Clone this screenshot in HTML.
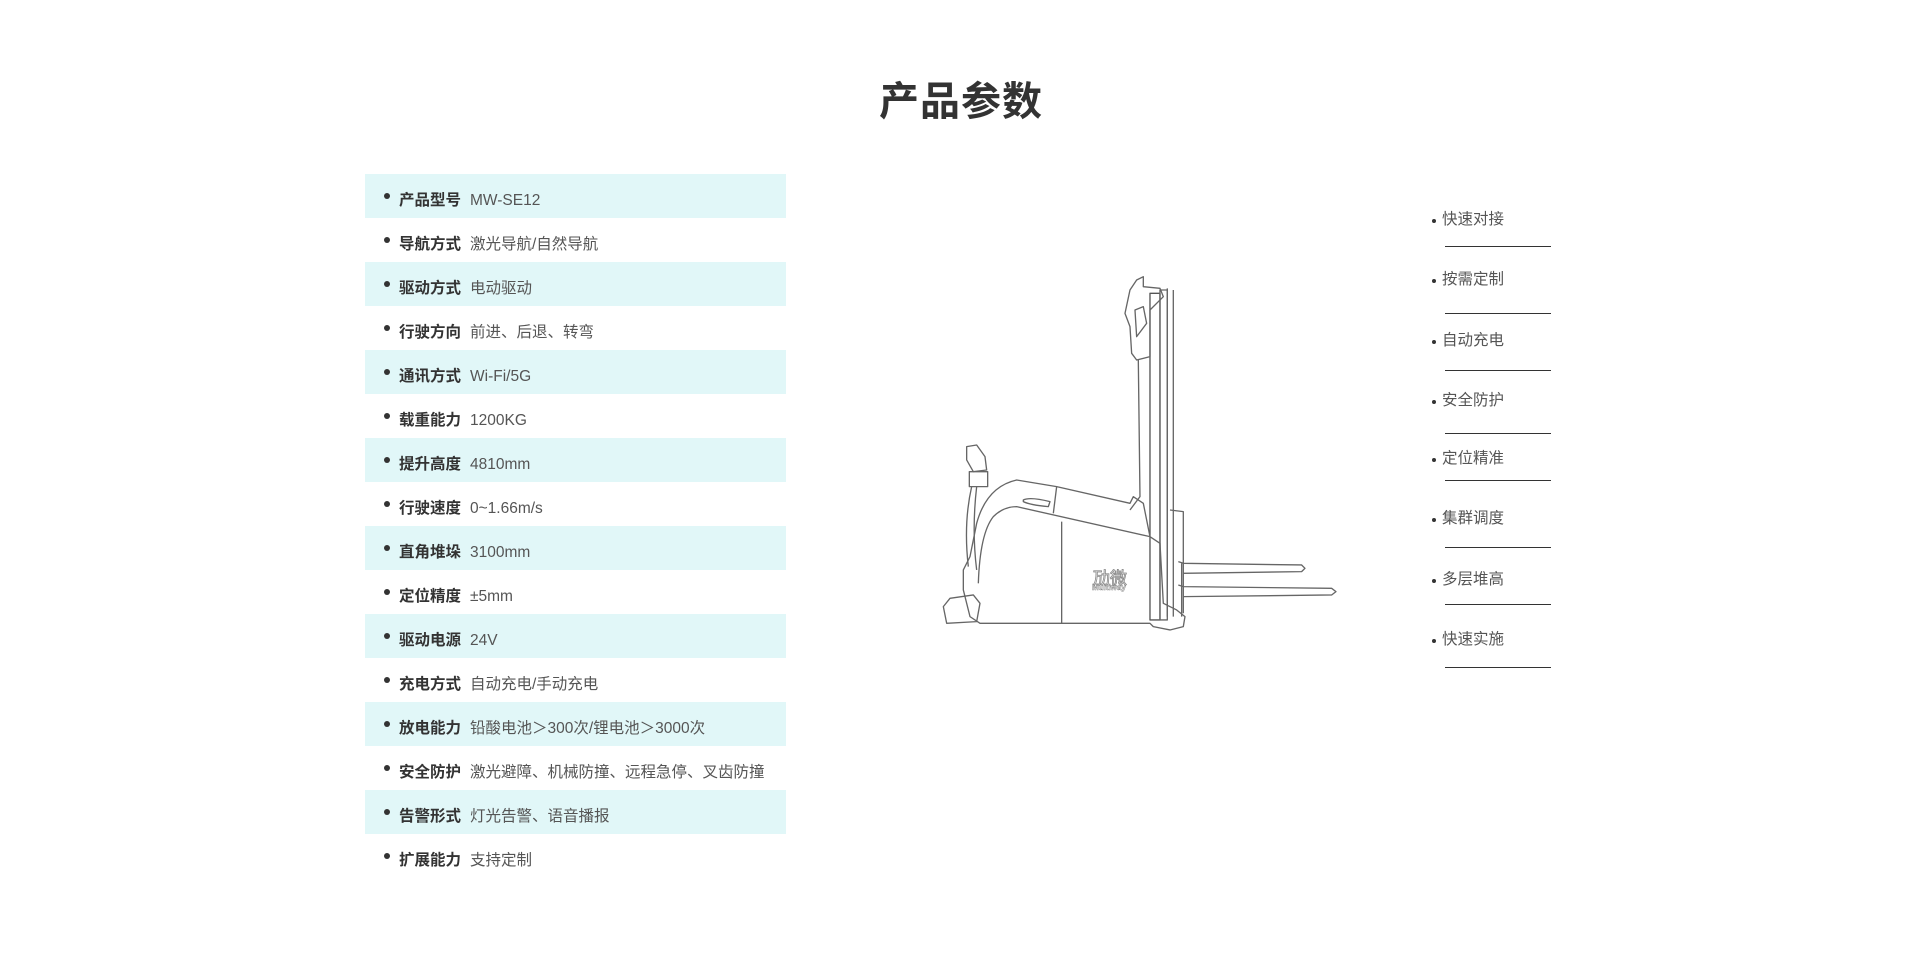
<!DOCTYPE html>
<html><head><meta charset="utf-8"><style>
html,body{margin:0;padding:0;background:#fff;width:1920px;height:965px;overflow:hidden;font-family:"Liberation Sans","Noto Sans CJK SC",sans-serif;}
.title{position:absolute;left:0;width:1922px;top:69px;text-align:center;font-size:40px;font-weight:bold;color:#333;letter-spacing:1px;}
.row{position:absolute;left:365px;width:421px;height:44px;line-height:44px;font-size:15.5px;white-space:nowrap;}
.row.bg{background:#e1f7f8;}
.row .dot{position:absolute;left:19px;top:19px;width:6px;height:6px;border-radius:50%;background:#333;}
.row .k{position:absolute;left:34px;top:5px;font-weight:bold;color:#333;}
.row .v{position:absolute;left:105px;top:5px;color:#555;}
.f{position:absolute;left:1432px;font-size:15.5px;color:#555;}
.f i{position:absolute;left:0;width:4px;height:4px;border-radius:50%;background:#333;}
.f span{position:absolute;left:10px;white-space:nowrap;}
.ln{position:absolute;left:1445px;width:106px;height:1px;background:#333;}
</style></head><body>
<div class="title">产品参数</div>

<div class="row bg" style="top:174px"><i class="dot"></i><span class="k">产品型号</span><span class="v">MW-SE12</span></div>
<div class="row" style="top:218px"><i class="dot"></i><span class="k">导航方式</span><span class="v">激光导航/自然导航</span></div>
<div class="row bg" style="top:262px"><i class="dot"></i><span class="k">驱动方式</span><span class="v">电动驱动</span></div>
<div class="row" style="top:306px"><i class="dot"></i><span class="k">行驶方向</span><span class="v">前进、后退、转弯</span></div>
<div class="row bg" style="top:350px"><i class="dot"></i><span class="k">通讯方式</span><span class="v">Wi-Fi/5G</span></div>
<div class="row" style="top:394px"><i class="dot"></i><span class="k">载重能力</span><span class="v">1200KG</span></div>
<div class="row bg" style="top:438px"><i class="dot"></i><span class="k">提升高度</span><span class="v">4810mm</span></div>
<div class="row" style="top:482px"><i class="dot"></i><span class="k">行驶速度</span><span class="v">0~1.66m/s</span></div>
<div class="row bg" style="top:526px"><i class="dot"></i><span class="k">直角堆垛</span><span class="v">3100mm</span></div>
<div class="row" style="top:570px"><i class="dot"></i><span class="k">定位精度</span><span class="v">±5mm</span></div>
<div class="row bg" style="top:614px"><i class="dot"></i><span class="k">驱动电源</span><span class="v">24V</span></div>
<div class="row" style="top:658px"><i class="dot"></i><span class="k">充电方式</span><span class="v">自动充电/手动充电</span></div>
<div class="row bg" style="top:702px"><i class="dot"></i><span class="k">放电能力</span><span class="v">铅酸电池＞300次/锂电池＞3000次</span></div>
<div class="row" style="top:746px"><i class="dot"></i><span class="k">安全防护</span><span class="v">激光避障、机械防撞、远程急停、叉齿防撞</span></div>
<div class="row bg" style="top:790px"><i class="dot"></i><span class="k">告警形式</span><span class="v">灯光告警、语音播报</span></div>
<div class="row" style="top:834px"><i class="dot"></i><span class="k">扩展能力</span><span class="v">支持定制</span></div>

<svg style="position:absolute;left:0;top:0" width="1920" height="965">
<g transform="translate(930,270) scale(0.3333)" fill="none" stroke="#666" stroke-width="4" stroke-linejoin="round">
 <rect x="660" y="70" width="30" height="980" stroke="#555"/>
 <rect x="690" y="60" width="22" height="990"/>
 <line x1="712" y1="55" x2="712" y2="1040"/>
 <line x1="730" y1="60" x2="730" y2="1040"/>
 <path d="M620 30 L640 20 L640 50 L690 55 L700 80 L660 120 L660 260 L620 270 L605 250 L600 170 L585 130 L600 60 Z"/>
 <path d="M615 120 L640 110 L650 160 L620 200 Z"/>
 <path d="M625 270 L630 680 L600 720"/>
 <path d="M100 960 L100 900 L120 860 L140 760 Q170 650 260 630 L380 650 L600 700 L610 680 L640 700 L660 800 L690 820 L700 1000 L740 1020 L765 1040 L760 1070 L720 1080 L670 1070 L660 1060 L150 1060 L120 1040 Z"/>
 <path d="M145 940 Q150 790 190 740 Q220 710 260 710 L660 800"/>
 <path d="M380 650 L370 730"/>
 <line x1="395" y1="755" x2="395" y2="1060"/>
 <path d="M720 720 L760 725 L760 1030"/>
 <path d="M280 690 Q300 680 360 695 L355 710 Q300 705 280 695Z"/>
 <path d="M110 530 L140 525 L165 560 L170 600 L130 605 L110 570 Z"/>
 <rect x="118" y="605" width="55" height="45"/>
 <path d="M125 650 Q100 760 115 890 M140 650 Q125 780 140 900"/>
 <path d="M40 1010 L60 985 L130 975 L150 1000 L140 1055 L50 1060 Z"/>
 <path d="M745 875 L760 880 L1115 885 L1125 895 L1115 905 L760 910"/>
 <path d="M745 945 L760 950 L1205 955 L1218 965 L1205 975 L760 980"/>
 <line x1="755" y1="880" x2="755" y2="1040"/>
</g>
<text x="1093" y="584" font-family="Liberation Sans,Noto Sans CJK SC,sans-serif" font-size="17" fill="none" stroke="#888" stroke-width="0.8">劢微</text>
<text x="1092" y="590" font-family="Liberation Sans,sans-serif" font-size="8" font-weight="bold" fill="none" stroke="#888" stroke-width="0.5">Multiway</text>
</svg>

<div class="f" style="top:207px"><i style="top:12px"></i><span>快速对接</span></div><div class="ln" style="top:246px"></div>
<div class="f" style="top:267px"><i style="top:12px"></i><span>按需定制</span></div><div class="ln" style="top:313px"></div>
<div class="f" style="top:328px"><i style="top:12px"></i><span>自动充电</span></div><div class="ln" style="top:370px"></div>
<div class="f" style="top:388px"><i style="top:12px"></i><span>安全防护</span></div><div class="ln" style="top:433px"></div>
<div class="f" style="top:446px"><i style="top:12px"></i><span>定位精准</span></div><div class="ln" style="top:480px"></div>
<div class="f" style="top:506px"><i style="top:12px"></i><span>集群调度</span></div><div class="ln" style="top:547px"></div>
<div class="f" style="top:567px"><i style="top:12px"></i><span>多层堆高</span></div><div class="ln" style="top:604px"></div>
<div class="f" style="top:627px"><i style="top:12px"></i><span>快速实施</span></div><div class="ln" style="top:667px"></div>
</body></html>
